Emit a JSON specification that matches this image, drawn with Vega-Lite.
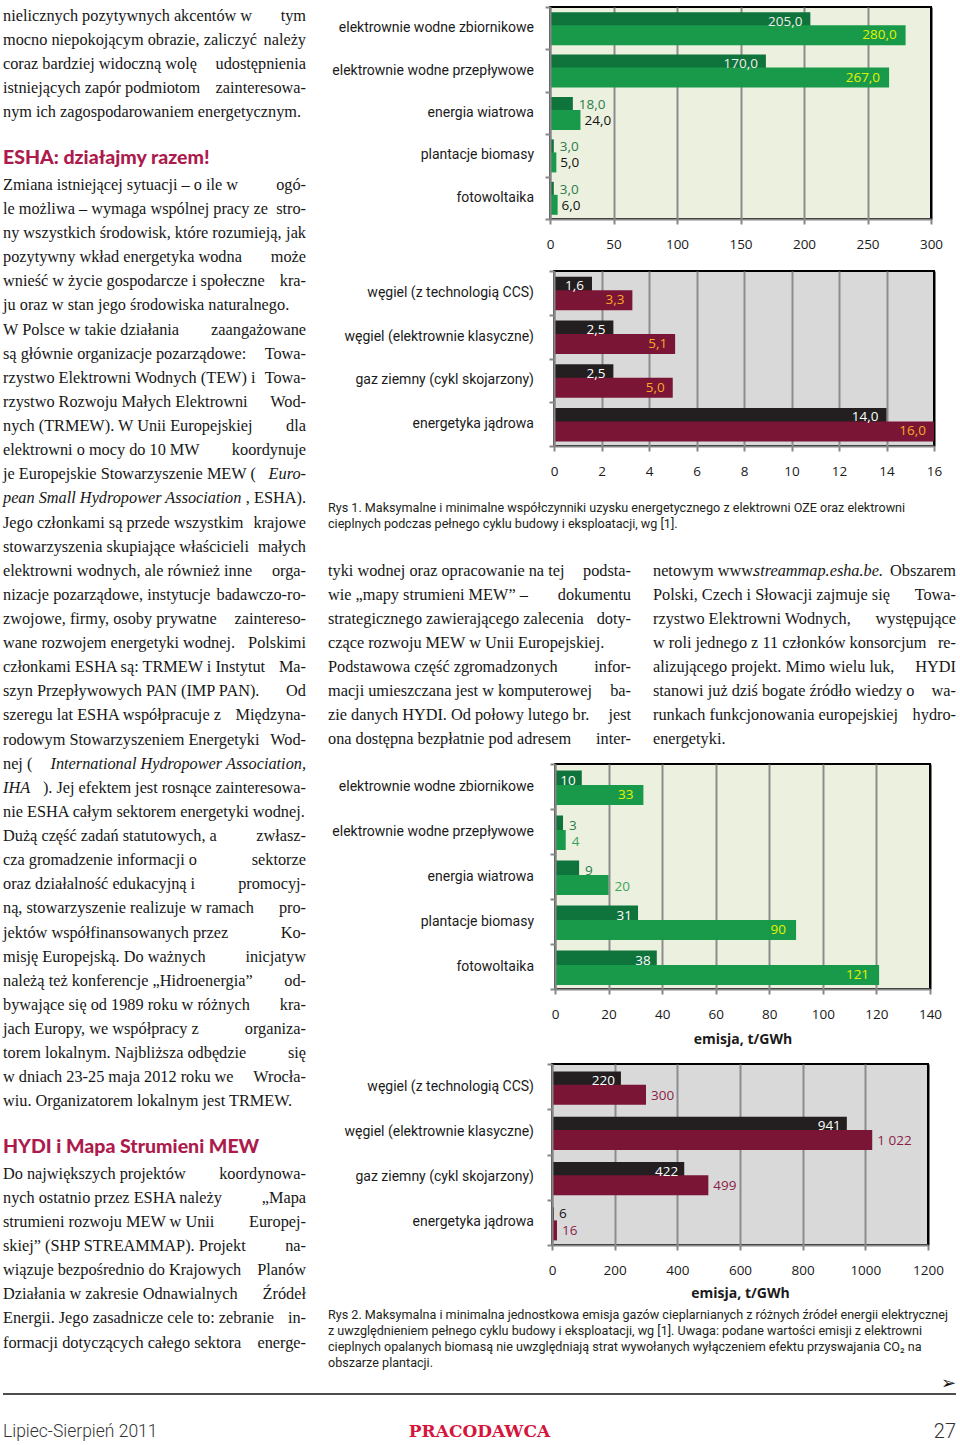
{
  "$schema": "https://vega.github.io/schema/vega-lite/v6.json",
  "padding": {"left": 2, "top": 5, "right": 0, "bottom": 0},
  "background": "white",
  "config": {
    "view": {"stroke": null},
    "locale": {"number": {"decimal": ",", "thousands": " ", "grouping": [3], "currency": ["", ""]}},
    "text": {"baseline": "middle"}
  },
  "datasets": {
    "left": [
      {"n": 0, "l": "nielicznych pozytywnych akcentów w", "r": "tym"},
      {"n": 1, "l": "mocno niepokojącym obrazie, zaliczyć", "r": "należy"},
      {"n": 2, "l": "coraz bardziej widoczną wolę", "r": "udostępnienia"},
      {"n": 3, "l": "istniejących zapór podmiotom", "r": "zainteresowa-"},
      {"n": 4, "l": "nym ich zagospodarowaniem energetycznym."},
      {"n": 6, "h": "ESHA: działajmy razem!"},
      {"n": 7, "l": "\u2003Zmiana istniejącej sytuacji – o ile w", "r": "ogó-"},
      {"n": 8, "l": "le możliwa – wymaga wspólnej pracy ze", "r": "stro-"},
      {"n": 9, "l": "ny wszystkich środowisk, które rozumieją,", "r": "jak"},
      {"n": 10, "l": "pozytywny wkład energetyka wodna", "r": "może"},
      {"n": 11, "l": "wnieść w życie gospodarcze i społeczne", "r": "kra-"},
      {"n": 12, "l": "ju oraz w stan jego środowiska naturalnego."},
      {"n": 13, "l": "\u2003W Polsce w takie działania", "r": "zaangażowane"},
      {"n": 14, "l": "są głównie organizacje pozarządowe:", "r": "Towa-"},
      {"n": 15, "l": "rzystwo Elektrowni Wodnych (TEW) i", "r": "Towa-"},
      {"n": 16, "l": "rzystwo Rozwoju Małych Elektrowni", "r": "Wod-"},
      {"n": 17, "l": "nych (TRMEW). W Unii Europejskiej", "r": "dla"},
      {"n": 18, "l": "elektrowni o mocy do 10 MW", "r": "koordynuje"},
      {"n": 19, "l": "je Europejskie Stowarzyszenie MEW (", "ri": "Euro-"},
      {"n": 20, "li": "pean Small Hydropower Association", "r": ", ESHA)."},
      {"n": 21, "l": "Jego członkami są przede wszystkim", "r": "krajowe"},
      {"n": 22, "l": "stowarzyszenia skupiające właścicieli", "r": "małych"},
      {"n": 23, "l": "elektrowni wodnych, ale również inne", "r": "orga-"},
      {"n": 24, "l": "nizacje pozarządowe, instytucje", "r": "badawczo-ro-"},
      {"n": 25, "l": "zwojowe, firmy, osoby prywatne", "r": "zaintereso-"},
      {"n": 26, "l": "wane rozwojem energetyki wodnej.", "r": "Polskimi"},
      {"n": 27, "l": "członkami ESHA są: TRMEW i Instytut", "r": "Ma-"},
      {"n": 28, "l": "szyn Przepływowych PAN (IMP PAN).", "r": "Od"},
      {"n": 29, "l": "szeregu lat ESHA współpracuje z", "r": "Międzyna-"},
      {"n": 30, "l": "rodowym Stowarzyszeniem Energetyki", "r": "Wod-"},
      {"n": 31, "l": "nej (", "ri": "International Hydropower Association,"},
      {"n": 32, "li": "IHA", "r": "). Jej efektem jest rosnące zainteresowa-"},
      {"n": 33, "l": "nie ESHA całym sektorem energetyki wodnej."},
      {"n": 34, "l": "\u2003Dużą część zadań statutowych, a", "r": "zwłasz-"},
      {"n": 35, "l": "cza gromadzenie informacji o", "r": "sektorze"},
      {"n": 36, "l": "oraz działalność edukacyjną i", "r": "promocyj-"},
      {"n": 37, "l": "ną, stowarzyszenie realizuje w ramach", "r": "pro-"},
      {"n": 38, "l": "jektów współfinansowanych przez", "r": "Ko-"},
      {"n": 39, "l": "misję Europejską. Do ważnych", "r": "inicjatyw"},
      {"n": 40, "l": "należą też konferencje „Hidroenergia”", "r": "od-"},
      {"n": 41, "l": "bywające się od 1989 roku w różnych", "r": "kra-"},
      {"n": 42, "l": "jach Europy, we współpracy z", "r": "organiza-"},
      {"n": 43, "l": "torem lokalnym. Najbliższa odbędzie", "r": "się"},
      {"n": 44, "l": "w dniach 23-25 maja 2012 roku we", "r": "Wrocła-"},
      {"n": 45, "l": "wiu. Organizatorem lokalnym jest TRMEW."},
      {"n": 47, "h": "HYDI i Mapa Strumieni MEW"},
      {"n": 48, "l": "\u2003Do największych projektów", "r": "koordynowa-"},
      {"n": 49, "l": "nych ostatnio przez ESHA należy", "r": "„Mapa"},
      {"n": 50, "l": "strumieni rozwoju MEW w Unii", "r": "Europej-"},
      {"n": 51, "l": "skiej” (SHP STREAMMAP). Projekt", "r": "na-"},
      {"n": 52, "l": "wiązuje bezpośrednio do Krajowych", "r": "Planów"},
      {"n": 53, "l": "Działania w zakresie Odnawialnych", "r": "Źródeł"},
      {"n": 54, "l": "Energii. Jego zasadnicze cele to: zebranie", "r": "in-"},
      {"n": 55, "l": "formacji dotyczących całego sektora", "r": "energe-"}
    ],
    "col1": [
      {"n": 0, "l": "tyki wodnej oraz opracowanie na tej", "r": "podsta-"},
      {"n": 1, "l": "wie „mapy strumieni MEW” –", "r": "dokumentu"},
      {"n": 2, "l": "strategicznego zawierającego zalecenia", "r": "doty-"},
      {"n": 3, "l": "czące rozwoju MEW w Unii Europejskiej."},
      {"n": 4, "l": "\u2003Podstawowa część zgromadzonych", "r": "infor-"},
      {"n": 5, "l": "macji umieszczana jest w komputerowej", "r": "ba-"},
      {"n": 6, "l": "zie danych HYDI. Od połowy lutego br.", "r": "jest"},
      {"n": 7, "l": "ona dostępna bezpłatnie pod adresem", "r": "inter-"}
    ],
    "col2": [
      {"n": 0, "l": "netowym www.", "c": "streammap.esha.be.", "r": "Obszarem"},
      {"n": 1, "l": "Polski, Czech i Słowacji zajmuje się", "r": "Towa-"},
      {"n": 2, "l": "rzystwo Elektrowni Wodnych,", "r": "występujące"},
      {"n": 3, "l": "w roli jednego z 11 członków konsorcjum", "r": "re-"},
      {"n": 4, "l": "alizującego projekt. Mimo wielu luk,", "r": "HYDI"},
      {"n": 5, "l": "stanowi już dziś bogate źródło wiedzy o", "r": "wa-"},
      {"n": 6, "l": "runkach funkcjonowania europejskiej", "r": "hydro-"},
      {"n": 7, "l": "energetyki."}
    ],
    "cap1": [
      {"n": 0, "t": "Rys 1. Maksymalne i minimalne współczynniki uzysku energetycznego z elektrowni OZE oraz elektrowni"},
      {"n": 1, "t": "cieplnych podczas pełnego cyklu budowy i eksploatacji, wg [1]."}
    ],
    "cap2": [
      {"n": 0, "t": "Rys 2. Maksymalna i minimalna jednostkowa emisja gazów cieplarnianych z różnych źródeł energii elektrycznej"},
      {"n": 1, "t": "z uwzględnieniem pełnego cyklu budowy i eksploatacji, wg [1]. Uwaga: podane wartości emisji z elektrowni"},
      {"n": 2, "t": "cieplnych opalanych biomasą nie uwzględniają strat wywołanych wyłączeniem efektu przyswajania CO₂ na"},
      {"n": 3, "t": "obszarze plantacji."}
    ],
    "rys1a": [
      {"cat": "elektrownie wodne zbiornikowe", "s": "min", "v": 205},
      {"cat": "elektrownie wodne zbiornikowe", "s": "max", "v": 280},
      {"cat": "elektrownie wodne przepływowe", "s": "min", "v": 170},
      {"cat": "elektrownie wodne przepływowe", "s": "max", "v": 267},
      {"cat": "energia wiatrowa", "s": "min", "v": 18},
      {"cat": "energia wiatrowa", "s": "max", "v": 24},
      {"cat": "plantacje biomasy", "s": "min", "v": 3},
      {"cat": "plantacje biomasy", "s": "max", "v": 5},
      {"cat": "fotowoltaika", "s": "min", "v": 3},
      {"cat": "fotowoltaika", "s": "max", "v": 6}
    ],
    "rys1b": [
      {"cat": "węgiel (z technologią CCS)", "s": "min", "v": 1.6},
      {"cat": "węgiel (z technologią CCS)", "s": "max", "v": 3.3},
      {"cat": "węgiel (elektrownie klasyczne)", "s": "min", "v": 2.5},
      {"cat": "węgiel (elektrownie klasyczne)", "s": "max", "v": 5.1},
      {"cat": "gaz ziemny (cykl skojarzony)", "s": "min", "v": 2.5},
      {"cat": "gaz ziemny (cykl skojarzony)", "s": "max", "v": 5.0},
      {"cat": "energetyka jądrowa", "s": "min", "v": 14.0},
      {"cat": "energetyka jądrowa", "s": "max", "v": 16.0}
    ],
    "rys2a": [
      {"cat": "elektrownie wodne zbiornikowe", "s": "min", "v": 10},
      {"cat": "elektrownie wodne zbiornikowe", "s": "max", "v": 33},
      {"cat": "elektrownie wodne przepływowe", "s": "min", "v": 3},
      {"cat": "elektrownie wodne przepływowe", "s": "max", "v": 4},
      {"cat": "energia wiatrowa", "s": "min", "v": 9},
      {"cat": "energia wiatrowa", "s": "max", "v": 20},
      {"cat": "plantacje biomasy", "s": "min", "v": 31},
      {"cat": "plantacje biomasy", "s": "max", "v": 90},
      {"cat": "fotowoltaika", "s": "min", "v": 38},
      {"cat": "fotowoltaika", "s": "max", "v": 121}
    ],
    "rys2b": [
      {"cat": "węgiel (z technologią CCS)", "s": "min", "v": 220},
      {"cat": "węgiel (z technologią CCS)", "s": "max", "v": 300},
      {"cat": "węgiel (elektrownie klasyczne)", "s": "min", "v": 941},
      {"cat": "węgiel (elektrownie klasyczne)", "s": "max", "v": 1022},
      {"cat": "gaz ziemny (cykl skojarzony)", "s": "min", "v": 422},
      {"cat": "gaz ziemny (cykl skojarzony)", "s": "max", "v": 499},
      {"cat": "energetyka jądrowa", "s": "min", "v": 6},
      {"cat": "energetyka jądrowa", "s": "max", "v": 16}
    ]
  },
  "vconcat": [
    {
      "hconcat": [
        {
          "width": 303, "height": 1350,
          "data": {"name": "left"},
          "encoding": {"y": {"field": "n", "type": "quantitative", "scale": {"domain": [-0.3731, 55.597], "reverse": true, "nice": false, "zero": false}, "axis": null}},
          "layer": [
            {"transform": [{"filter": "isValid(datum.l)"}], "mark": {"type": "text", "align": "left", "x": 0, "font": "Liberation Serif", "fontSize": 16.3, "color": "#161616"}, "encoding": {"text": {"field": "l", "type": "nominal"}}},
            {"transform": [{"filter": "isValid(datum.r)"}], "mark": {"type": "text", "align": "right", "x": "width", "font": "Liberation Serif", "fontSize": 16.3, "color": "#161616"}, "encoding": {"text": {"field": "r", "type": "nominal"}}},
            {"transform": [{"filter": "isValid(datum.li)"}], "mark": {"type": "text", "align": "left", "x": 0, "font": "Liberation Serif", "fontStyle": "italic", "fontSize": 16.3, "color": "#161616"}, "encoding": {"text": {"field": "li", "type": "nominal"}}},
            {"transform": [{"filter": "isValid(datum.ri)"}], "mark": {"type": "text", "align": "right", "x": "width", "font": "Liberation Serif", "fontStyle": "italic", "fontSize": 16.3, "color": "#161616"}, "encoding": {"text": {"field": "ri", "type": "nominal"}}},
            {"transform": [{"filter": "isValid(datum.h)"}], "mark": {"type": "text", "align": "left", "x": 0, "dy": -3, "font": "Lato", "fontWeight": 900, "fontSize": 19.5, "color": "#ad1a4c"}, "encoding": {"text": {"field": "h", "type": "nominal"}}}
          ]
        },
        {
          "vconcat": [
            {
              "hconcat": [
                {
                  "width": 206, "height": 212,
                  "data": {"name": "rys1a"},
                  "transform": [{"filter": "datum.s === 'min'"}],
                  "mark": {"type": "text", "align": "right", "x": "width", "font": "Roboto", "fontSize": 14, "color": "#1a1a1a"},
                  "encoding": {"y": {"field": "cat", "type": "nominal", "sort": null, "scale": {"type": "band", "paddingInner": 0, "paddingOuter": 0}, "axis": null}, "text": {"field": "cat", "type": "nominal"}}
                },
                {
                  "width": 381, "height": 212,
                  "data": {"name": "rys1a"},
                  "view": {"fill": "#ebf1de", "stroke": "#000000", "strokeWidth": 2},
                  "encoding": {
                    "y": {"field": "cat", "type": "nominal", "sort": null, "scale": {"paddingInner": 0, "paddingOuter": 0},
                      "axis": {"title": null, "labels": false, "zindex": 1, "domainColor": "#878787", "domainWidth": 2, "tickColor": "#878787", "tickWidth": 2, "tickSize": 5, "tickBand": "extent"}},
                    "x": {"field": "v", "type": "quantitative", "scale": {"domain": [0, 300], "nice": false},
                      "axis": {"title": null, "values": [0, 50, 100, 150, 200, 250, 300], "grid": true, "gridColor": {"condition": {"test": "datum.value >= 300", "value": "#000000"}, "value": "#8c8c8c"}, "gridWidth": 2, "domainColor": "#878787", "domainWidth": 2, "tickColor": "#878787", "tickWidth": 2, "tickSize": 5, "labelFont": "Open Sans", "labelFontSize": 13.5, "labelColor": "#1a1a1a", "labelPadding": 13, "labelFlush": false, "minExtent": 49, "maxExtent": 49}}
                  },
                  "layer": [
                    {"transform": [{"filter": "datum.s === 'min'"}], "mark": {"type": "bar", "color": "#0e743c", "height": 19, "yOffset": -6.5}},
                    {"transform": [{"filter": "datum.s === 'max'"}], "mark": {"type": "bar", "color": "#199a4a", "height": 20, "yOffset": 7}},
                    {"transform": [{"filter": "datum.s === 'min' && datum.v >= 100"}], "mark": {"type": "text", "align": "right", "dx": -8, "dy": -6.5, "color": "#eef2e8", "font": "Open Sans", "fontSize": 13.5}, "encoding": {"text": {"field": "v", "type": "quantitative", "format": ".1f"}}},
                    {"transform": [{"filter": "datum.s === 'max' && datum.v >= 100"}], "mark": {"type": "text", "align": "right", "dx": -9, "dy": 7, "color": "#e2f200", "font": "Open Sans", "fontSize": 13.5}, "encoding": {"text": {"field": "v", "type": "quantitative", "format": ".1f"}}},
                    {"transform": [{"filter": "datum.s === 'min' && datum.v < 100"}], "mark": {"type": "text", "align": "left", "dx": 6, "dy": -8, "color": "#2c7c4e", "font": "Open Sans", "fontSize": 13.5}, "encoding": {"text": {"field": "v", "type": "quantitative", "format": ".1f"}}},
                    {"transform": [{"filter": "datum.s === 'max' && datum.v < 100"}], "mark": {"type": "text", "align": "left", "dx": 4, "dy": 8, "color": "#111111", "font": "Open Sans", "fontSize": 13.5}, "encoding": {"text": {"field": "v", "type": "quantitative", "format": ".1f"}}}
                  ]
                }
              ],
              "spacing": 16,
              "bounds": "flush"
            },
            {
              "hconcat": [
                {
                  "width": 206, "height": 175,
                  "data": {"name": "rys1b"},
                  "transform": [{"filter": "datum.s === 'min'"}],
                  "mark": {"type": "text", "align": "right", "x": "width", "font": "Roboto", "fontSize": 14, "color": "#1a1a1a"},
                  "encoding": {"y": {"field": "cat", "type": "nominal", "sort": null, "scale": {"type": "band", "paddingInner": 0, "paddingOuter": 0}, "axis": null}, "text": {"field": "cat", "type": "nominal"}}
                },
                {
                  "width": 380, "height": 175,
                  "data": {"name": "rys1b"},
                  "view": {"fill": "#d9d9d9", "stroke": "#000000", "strokeWidth": 2},
                  "encoding": {
                    "y": {"field": "cat", "type": "nominal", "sort": null, "scale": {"paddingInner": 0, "paddingOuter": 0},
                      "axis": {"title": null, "labels": false, "zindex": 1, "domainColor": "#878787", "domainWidth": 2, "tickColor": "#878787", "tickWidth": 2, "tickSize": 5, "tickBand": "extent"}},
                    "x": {"field": "v", "type": "quantitative", "scale": {"domain": [0, 16], "nice": false},
                      "axis": {"title": null, "values": [0, 2, 4, 6, 8, 10, 12, 14, 16], "format": "d", "grid": true, "gridColor": {"condition": {"test": "datum.value >= 16", "value": "#000000"}, "value": "#8c8c8c"}, "gridWidth": 2, "domainColor": "#878787", "domainWidth": 2, "tickColor": "#878787", "tickWidth": 2, "tickSize": 5, "labelFont": "Open Sans", "labelFontSize": 13.5, "labelColor": "#1a1a1a", "labelPadding": 13, "labelFlush": false, "minExtent": 41, "maxExtent": 41}}
                  },
                  "layer": [
                    {"transform": [{"filter": "datum.s === 'min'"}], "mark": {"type": "bar", "color": "#231f20", "height": 19, "yOffset": -6.7}},
                    {"transform": [{"filter": "datum.s === 'max'"}], "mark": {"type": "bar", "color": "#7a1535", "height": 20, "yOffset": 7.3}},
                    {"transform": [{"filter": "datum.s === 'min'"}], "mark": {"type": "text", "align": "right", "dx": -8, "dy": -6.7, "color": "#ffffff", "font": "Open Sans", "fontSize": 13.5}, "encoding": {"text": {"field": "v", "type": "quantitative", "format": ".1f"}}},
                    {"transform": [{"filter": "datum.s === 'max'"}], "mark": {"type": "text", "align": "right", "dx": -8, "dy": 7.3, "color": "#f9a825", "font": "Open Sans", "fontSize": 13.5}, "encoding": {"text": {"field": "v", "type": "quantitative", "format": ".1f"}}}
                  ]
                }
              ],
              "spacing": 20,
              "bounds": "flush"
            },
            {
              "vconcat": [
                {
                  "width": 628, "height": 53,
                  "data": {"name": "cap1"},
                  "mark": {"type": "text", "align": "left", "x": 0, "font": "Roboto", "fontSize": 12.6, "color": "#231f20"},
                  "encoding": {"y": {"field": "n", "type": "quantitative", "scale": {"domain": [-1.25, 2.0625], "reverse": true, "nice": false, "zero": false}, "axis": null}, "text": {"field": "t", "type": "nominal"}}
                },
                {
                  "hconcat": [
                    {
                      "width": 303, "height": 221,
                      "data": {"name": "col1"},
                      "encoding": {"y": {"field": "n", "type": "quantitative", "scale": {"domain": [-1.25, 7.9583], "reverse": true, "nice": false, "zero": false}, "axis": null}},
                      "layer": [
                        {"transform": [{"filter": "isValid(datum.l)"}], "mark": {"type": "text", "align": "left", "x": 0, "font": "Liberation Serif", "fontSize": 16.3, "color": "#161616"}, "encoding": {"text": {"field": "l", "type": "nominal"}}},
                        {"transform": [{"filter": "isValid(datum.r)"}], "mark": {"type": "text", "align": "right", "x": "width", "font": "Liberation Serif", "fontSize": 16.3, "color": "#161616"}, "encoding": {"text": {"field": "r", "type": "nominal"}}}
                      ]
                    },
                    {
                      "width": 303, "height": 221,
                      "data": {"name": "col2"},
                      "encoding": {"y": {"field": "n", "type": "quantitative", "scale": {"domain": [-1.25, 7.9583], "reverse": true, "nice": false, "zero": false}, "axis": null}},
                      "layer": [
                        {"transform": [{"filter": "isValid(datum.l)"}], "mark": {"type": "text", "align": "left", "x": 0, "font": "Liberation Serif", "fontSize": 16.3, "color": "#161616"}, "encoding": {"text": {"field": "l", "type": "nominal"}}},
                        {"transform": [{"filter": "isValid(datum.r)"}], "mark": {"type": "text", "align": "right", "x": "width", "font": "Liberation Serif", "fontSize": 16.3, "color": "#161616"}, "encoding": {"text": {"field": "r", "type": "nominal"}}},
                        {"transform": [{"filter": "isValid(datum.c)"}], "mark": {"type": "text", "align": "center", "font": "Liberation Serif", "fontStyle": "italic", "fontSize": 16.3, "color": "#161616"}, "encoding": {"x": {"datum": 0.546, "type": "quantitative", "scale": {"domain": [0, 1], "nice": false}, "axis": null}, "text": {"field": "c", "type": "nominal"}}}
                      ]
                    }
                  ],
                  "spacing": 22,
                  "bounds": "full"
                }
              ],
              "spacing": 0,
              "bounds": "full"
            },
            {
              "hconcat": [
                {
                  "width": 206, "height": 225,
                  "data": {"name": "rys2a"},
                  "transform": [{"filter": "datum.s === 'min'"}],
                  "mark": {"type": "text", "align": "right", "x": "width", "font": "Roboto", "fontSize": 14, "color": "#1a1a1a"},
                  "encoding": {"y": {"field": "cat", "type": "nominal", "sort": null, "scale": {"type": "band", "paddingInner": 0, "paddingOuter": 0}, "axis": null}, "text": {"field": "cat", "type": "nominal"}}
                },
                {
                  "width": 375, "height": 225,
                  "data": {"name": "rys2a"},
                  "view": {"fill": "#ebf1de", "stroke": "#000000", "strokeWidth": 2},
                  "encoding": {
                    "y": {"field": "cat", "type": "nominal", "sort": null, "scale": {"paddingInner": 0, "paddingOuter": 0},
                      "axis": {"title": null, "labels": false, "zindex": 1, "domainColor": "#878787", "domainWidth": 2, "tickColor": "#878787", "tickWidth": 2, "tickSize": 5, "tickBand": "extent"}},
                    "x": {"field": "v", "type": "quantitative", "title": "emisja, t/GWh", "scale": {"domain": [0, 140], "nice": false},
                      "axis": {"values": [0, 20, 40, 60, 80, 100, 120, 140], "format": "d", "grid": true, "gridColor": {"condition": {"test": "datum.value >= 140", "value": "#000000"}, "value": "#8c8c8c"}, "gridWidth": 2, "domainColor": "#878787", "domainWidth": 2, "tickColor": "#878787", "tickWidth": 2, "tickSize": 5, "labelFont": "Open Sans", "labelFontSize": 13.5, "labelColor": "#1a1a1a", "labelPadding": 13, "labelFlush": false, "minExtent": 72, "maxExtent": 72, "titleFont": "Open Sans", "titleFontSize": 14, "titleFontWeight": "bold", "titleColor": "#1a1a1a", "titlePadding": -29}}
                  },
                  "layer": [
                    {"transform": [{"filter": "datum.s === 'min'"}], "mark": {"type": "bar", "color": "#0e743c", "height": 20, "yOffset": -6}},
                    {"transform": [{"filter": "datum.s === 'max'"}], "mark": {"type": "bar", "color": "#199a4a", "height": 20, "yOffset": 8.5}},
                    {"transform": [{"filter": "datum.s === 'min' && datum.v >= 10"}], "mark": {"type": "text", "align": "right", "dx": -6, "dy": -6, "color": "#ffffff", "font": "Open Sans", "fontSize": 13.5}, "encoding": {"text": {"field": "v", "type": "quantitative", "format": "d"}}},
                    {"transform": [{"filter": "datum.s === 'max' && datum.v >= 30"}], "mark": {"type": "text", "align": "right", "dx": -10, "dy": 8.5, "color": "#e2f200", "font": "Open Sans", "fontSize": 13.5}, "encoding": {"text": {"field": "v", "type": "quantitative", "format": "d"}}},
                    {"transform": [{"filter": "datum.s === 'min' && datum.v < 10"}], "mark": {"type": "text", "align": "left", "dx": 6, "dy": -6, "color": "#2c7c4e", "font": "Open Sans", "fontSize": 13.5}, "encoding": {"text": {"field": "v", "type": "quantitative", "format": "d"}}},
                    {"transform": [{"filter": "datum.s === 'max' && datum.v < 30"}], "mark": {"type": "text", "align": "left", "dx": 6, "dy": 10, "color": "#3aa35a", "font": "Open Sans", "fontSize": 13.5}, "encoding": {"text": {"field": "v", "type": "quantitative", "format": "d"}}}
                  ]
                }
              ],
              "spacing": 21,
              "bounds": "flush"
            },
            {
              "hconcat": [
                {
                  "width": 206, "height": 181,
                  "data": {"name": "rys2b"},
                  "transform": [{"filter": "datum.s === 'min'"}],
                  "mark": {"type": "text", "align": "right", "x": "width", "font": "Roboto", "fontSize": 14, "color": "#1a1a1a"},
                  "encoding": {"y": {"field": "cat", "type": "nominal", "sort": null, "scale": {"type": "band", "paddingInner": 0, "paddingOuter": 0}, "axis": null}, "text": {"field": "cat", "type": "nominal"}}
                },
                {
                  "width": 376, "height": 181,
                  "data": {"name": "rys2b"},
                  "view": {"fill": "#d9d9d9", "stroke": "#000000", "strokeWidth": 2},
                  "encoding": {
                    "y": {"field": "cat", "type": "nominal", "sort": null, "scale": {"paddingInner": 0, "paddingOuter": 0},
                      "axis": {"title": null, "labels": false, "zindex": 1, "domainColor": "#878787", "domainWidth": 2, "tickColor": "#878787", "tickWidth": 2, "tickSize": 5, "tickBand": "extent"}},
                    "x": {"field": "v", "type": "quantitative", "title": "emisja, t/GWh", "scale": {"domain": [0, 1200], "nice": false},
                      "axis": {"values": [0, 200, 400, 600, 800, 1000, 1200], "format": "d", "grid": true, "gridColor": {"condition": {"test": "datum.value >= 1200", "value": "#000000"}, "value": "#8c8c8c"}, "gridWidth": 2, "domainColor": "#878787", "domainWidth": 2, "tickColor": "#878787", "tickWidth": 2, "tickSize": 5, "labelFont": "Open Sans", "labelFontSize": 13.5, "labelColor": "#1a1a1a", "labelPadding": 13, "labelFlush": false, "minExtent": 60, "maxExtent": 60, "titleFont": "Open Sans", "titleFontSize": 14, "titleFontWeight": "bold", "titleColor": "#1a1a1a", "titlePadding": -19}}
                  },
                  "layer": [
                    {"transform": [{"filter": "datum.s === 'min'"}], "mark": {"type": "bar", "color": "#231f20", "height": 19.5, "yOffset": -5.5}},
                    {"transform": [{"filter": "datum.s === 'max'"}], "mark": {"type": "bar", "color": "#7a1535", "height": 20, "yOffset": 8}},
                    {"transform": [{"filter": "datum.s === 'min' && datum.v >= 100"}], "mark": {"type": "text", "align": "right", "dx": -6, "dy": -5.5, "color": "#ffffff", "font": "Open Sans", "fontSize": 13.5}, "encoding": {"text": {"field": "v", "type": "quantitative", "format": ",d"}}},
                    {"transform": [{"filter": "datum.s === 'min' && datum.v < 100"}], "mark": {"type": "text", "align": "left", "dx": 5, "dy": -8, "color": "#111111", "font": "Open Sans", "fontSize": 13.5}, "encoding": {"text": {"field": "v", "type": "quantitative", "format": ",d"}}},
                    {"transform": [{"filter": "datum.s === 'max'"}], "mark": {"type": "text", "align": "left", "dx": 5, "dy": 9, "color": "#8b1d48", "font": "Open Sans", "fontSize": 13.5}, "encoding": {"text": {"field": "v", "type": "quantitative", "format": ",d"}}}
                  ]
                }
              ],
              "spacing": 18,
              "bounds": "flush"
            },
            {
              "width": 628, "height": 69,
              "data": {"name": "cap2"},
              "mark": {"type": "text", "align": "left", "x": 0, "font": "Roboto", "fontSize": 12.6, "color": "#231f20"},
              "encoding": {"y": {"field": "n", "type": "quantitative", "scale": {"domain": [-0.5625, 3.75], "reverse": true, "nice": false, "zero": false}, "axis": null}, "text": {"field": "t", "type": "nominal"}}
            }
          ],
          "spacing": 0,
          "bounds": "full"
        }
      ],
      "spacing": 22,
      "bounds": "flush"
    },
    {
      "width": 953, "height": 76,
      "encoding": {"y": {"field": "row", "type": "nominal", "scale": {"type": "point", "domain": ["rule", "text"], "padding": 0.5}, "axis": null}},
      "layer": [
        {"data": {"values": [{"row": "rule"}]}, "mark": {"type": "rule", "color": "#4d4d4d", "strokeWidth": 2}, "encoding": {"x": {"value": 0}, "x2": {"value": "width"}}},
        {"data": {"values": [{"row": "rule", "t": "➢"}]}, "mark": {"type": "text", "align": "right", "x": "width", "dy": -10, "font": "DejaVu Sans", "fontSize": 18, "color": "#111111"}, "encoding": {"text": {"field": "t", "type": "nominal"}}},
        {"data": {"values": [{"row": "text", "t": "Lipiec-Sierpień 2011"}]}, "mark": {"type": "text", "align": "left", "x": 0, "font": "Roboto", "fontWeight": 300, "fontSize": 17.5, "color": "#333333"}, "encoding": {"text": {"field": "t", "type": "nominal"}}},
        {"data": {"values": [{"row": "text", "t": "PRACODAWCA"}]}, "mark": {"type": "text", "align": "center", "font": "DejaVu Serif", "fontWeight": "bold", "fontSize": 17, "color": "#d4163c"}, "encoding": {"x": {"datum": 0.5, "type": "quantitative", "scale": {"domain": [0, 1], "nice": false}, "axis": null}, "text": {"field": "t", "type": "nominal"}}},
        {"data": {"values": [{"row": "text", "t": "27"}]}, "mark": {"type": "text", "align": "right", "x": "width", "font": "Roboto", "fontWeight": 300, "fontSize": 20, "color": "#333333"}, "encoding": {"text": {"field": "t", "type": "nominal"}}}
      ]
    }
  ],
  "spacing": 0,
  "bounds": "full"
}
